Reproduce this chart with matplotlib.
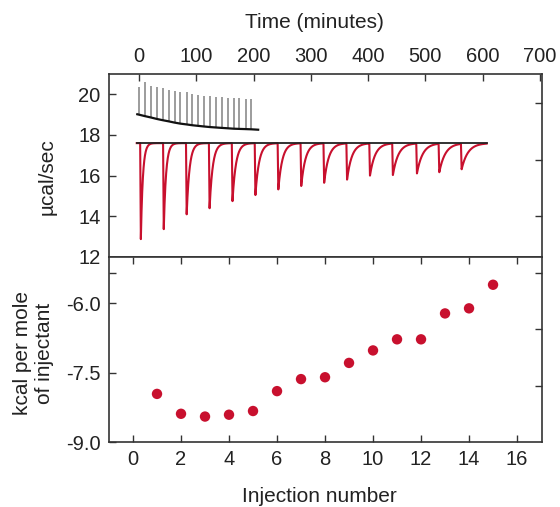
import numpy as np
import matplotlib
matplotlib.use("Agg")
import matplotlib.pyplot as plt

plt.rcParams['font.family'] = ['Liberation Sans', 'DejaVu Sans']
plt.rcParams['axes.unicode_minus'] = False

# ---------------- data ----------------
# raw ITC trace (top panel), time in minutes
baseline_level = 17.6
spike_times = [2, 42, 82, 122, 162, 202, 242, 282, 322, 362, 402, 442, 484, 523, 562]
spike_minima = [12.88, 13.37, 14.10, 14.40, 14.75, 15.05, 15.33, 15.50, 15.66, 15.82,
                16.02, 16.05, 16.13, 16.20, 16.35]
spike_tau = [3.5, 4.0, 5.0, 5.5, 6.0, 6.5, 7.0, 7.5, 8.0, 8.5, 9.0, 9.5, 10.0, 10.5, 11.0]
trace_start, trace_end = -4, 607

# control (dilution) trace, gray spikes over a drifting baseline
ctrl_times = [0, 10, 21, 31, 41, 52, 62, 72, 83, 93, 103, 113, 124, 134, 144, 155,
              165, 175, 186, 196]
ctrl_tops = [20.35, 20.60, 20.42, 20.38, 20.30, 20.21, 20.18, 20.13, 20.11, 20.01,
             19.96, 19.93, 19.90, 19.88, 19.87, 19.83, 19.80, 19.80, 19.78, 19.75]
ctrl_base = [19.00, 18.93, 18.86, 18.79, 18.73, 18.67, 18.61, 18.56, 18.52, 18.48,
             18.45, 18.42, 18.39, 18.37, 18.35, 18.33, 18.31, 18.30, 18.29, 18.28]
ctrl_curve_t = [-3] + ctrl_times + [208]
ctrl_curve_y = [19.02] + ctrl_base + [18.26]

# integrated heats (bottom panel)
injection = list(range(1, 16))
heat = [-7.96, -8.39, -8.45, -8.41, -8.33, -7.90, -7.64, -7.60, -7.29, -7.02,
        -6.78, -6.78, -6.22, -6.11, -5.60]

top_xticks = [0, 100, 200, 300, 400, 500, 600, 700]
top_yticks = [12, 14, 16, 18, 20]
bot_xticks = [0, 2, 4, 6, 8, 10, 12, 14, 16]
bot_yticks = [-9.0, -7.5, -6.0]
bot_yticklabels = ['-9.0', '-7.5', '-6.0']

RED = '#c8102e'
GRAY = '#9c9c9c'
FRAME = '#333333'
TEXT = '#222222'

# ---------------- figure ----------------
W, H = 560, 507
fig = plt.figure(figsize=(W / 100, H / 100), dpi=100)

left, right = 109 / W, 542 / W
top_y, mid_y, bot_y = 1 - 74 / H, 1 - 257 / H, 1 - 442 / H
width = right - left

ax1 = fig.add_axes([left, mid_y, width, top_y - mid_y])
ax2 = fig.add_axes([left, bot_y, width, mid_y - bot_y])

FS = 14.5
LFS = 15
for ax in (ax1, ax2):
    for s in ax.spines.values():
        s.set_color(FRAME)
        s.set_linewidth(1.2)

# top panel trace
t = np.arange(trace_start, trace_end, 0.2)
y = np.full_like(t, baseline_level, dtype=float)
drop = 1.2
for ti, mn, tau in zip(spike_times, spike_minima, spike_tau):
    d = baseline_level - mn
    m1 = (t >= ti) & (t < ti + drop)
    y[m1] -= d * (t[m1] - ti) / drop
    m2 = t >= ti + drop
    y[m2] -= d * np.exp(-(t[m2] - ti - drop) / tau)
ax1.plot(t, y, color=RED, lw=1.5, zorder=2)
ax1.plot([trace_start, trace_end], [baseline_level, baseline_level], color='#222222',
         lw=1.3, zorder=3)

ax1.vlines(ctrl_times, ctrl_base, ctrl_tops, color=GRAY, lw=1.4, zorder=2)
ax1.plot(ctrl_curve_t, ctrl_curve_y, color='#111111', lw=1.6, zorder=3)

ax1.set_xlim(-52.4, 703.5)
ax1.set_ylim(12, 21)
ax1.set_xticks(top_xticks)
ax1.set_xticklabels([str(v) for v in top_xticks])
ax1.set_yticks(top_yticks)
ax1.set_yticklabels([str(v) for v in top_yticks])
ax1.tick_params(axis='x', top=True, bottom=False, labeltop=True, labelbottom=False,
                direction='in', length=5, width=1, color=FRAME, labelsize=FS, pad=6,
                labelcolor=TEXT)
ax1.tick_params(axis='y', left=True, right=False, direction='in', length=5, width=1,
                color=FRAME, labelsize=FS, pad=6, labelcolor=TEXT)

# bottom panel
ax2.scatter(injection, heat, s=56, color=RED, edgecolors='none', zorder=3)
ax2.set_xlim(-1.0, 17.04)
ax2.set_ylim(-9, -5)
ax2.set_xticks(bot_xticks)
ax2.set_xticklabels([str(v) for v in bot_xticks])
ax2.set_yticks(bot_yticks)
ax2.set_yticklabels(bot_yticklabels)
ax2.tick_params(axis='x', top=True, bottom=True, labeltop=False, labelbottom=True,
                direction='in', length=5, width=1, color=FRAME, labelsize=FS, pad=6,
                labelcolor=TEXT)
ax2.tick_params(axis='y', left=True, right=False, direction='in', length=5, width=1,
                color=FRAME, labelsize=FS, pad=6, labelcolor=TEXT)

# extra frame ticks spanning both panels
total_h = top_y - bot_y
oa = fig.add_axes([left, bot_y, width, total_h], facecolor='none')
oa.set_ylim(0, (442 - 74) / 56.5)
oa.set_xticks([])
oa.set_yticks([1, 2, 3, 4, 5, 6])
oa.yaxis.tick_right()
oa.tick_params(axis='y', direction='in', length=5, width=1, color=FRAME, labelright=False)
for s in oa.spines.values():
    s.set_visible(False)
ob = fig.add_axes([left, bot_y, width, total_h], facecolor='none')
ob.set_ylim(0, (442 - 74) / 56.5)
ob.set_xticks([])
ob.set_yticks([3])
ob.tick_params(axis='y', direction='in', length=5, width=1, color=FRAME, labelleft=False)
for s in ob.spines.values():
    s.set_visible(False)

# labels
fig.text(314 / W, 1 - 23 / H, 'Time (minutes)', ha='center', va='center', fontsize=LFS,
         color=TEXT)
fig.text(319 / W, 1 - 497 / H, 'Injection number', ha='center', va='center', fontsize=LFS,
         color=TEXT)
fig.text(47 / W, 1 - 177 / H, 'µcal/sec', ha='center', va='center', rotation=90,
         fontsize=LFS, color=TEXT)
fig.text(34 / W, 1 - 353 / H, 'kcal per mole\nof injectant', ha='center', va='center',
         rotation=90, fontsize=LFS, multialignment='center', linespacing=1.2, color=TEXT)

fig.savefig('out.png', dpi=100)
